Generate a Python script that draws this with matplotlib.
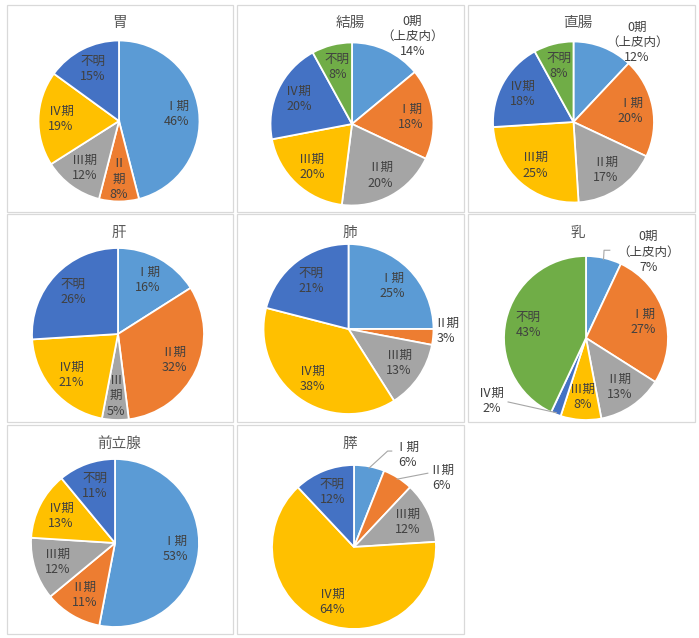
import numpy as np
import matplotlib
matplotlib.use("Agg")
import matplotlib.pyplot as plt
from matplotlib.patches import Rectangle

plt.rcParams['font.family'] = ['Noto Sans CJK JP', 'DejaVu Sans']

W, H = 699, 638

# data
titles = ['胃', '結腸', '直腸', '肝', '肺', '乳', '前立腺', '膵']
stages5 = ['Ⅰ期', 'Ⅱ期', 'Ⅲ期', 'Ⅳ期', '不明']
stages6 = ['0期\n（上皮内）', 'Ⅰ期', 'Ⅱ期', 'Ⅲ期', 'Ⅳ期', '不明']

stomach_pct = [46, 8, 12, 19, 15]
colon_pct = [14, 18, 20, 20, 20, 8]
rectum_pct = [12, 20, 17, 25, 18, 8]
liver_pct = [16, 32, 5, 21, 26]
lung_pct = [25, 3, 13, 38, 21]
breast_pct = [7, 27, 13, 8, 2, 43]
prostate_pct = [53, 11, 12, 13, 11]
pancreas_pct = [6, 6, 12, 64, 12]

all_pct = [stomach_pct, colon_pct, rectum_pct, liver_pct,
           lung_pct, breast_pct, prostate_pct, pancreas_pct]

# excel default palette
palette = ['#5B9BD5', '#ED7D31', '#A5A5A5', '#FFC000', '#4472C4', '#70AD47']

# layout (pixels, y from top)
col_x = [(7, 233), (237, 464), (468, 695)]
row_y = [(4.5, 212), (214, 422), (425, 634)]
centers = [(119, 121), (352, 124), (573.5, 122), (118, 334),
           (348.5, 329), (586, 338), (115, 543), (354, 547)]
radii = [80.5, 81.5, 80.5, 86, 85, 82, 84, 82]
title_y = [22.5, 22.5, 22.5, 232.5, 232.5, 232.5, 444, 444]
title_x = [119, 350, 578, 119, 350, 578, 119, 350]

# labels that sit outside the pie: (chart, slice) -> offset in radius units, leader line
outside = {
    (1, 0): ((0.74, 1.07), None),
    (2, 0): ((0.79, 0.99), None),
    (4, 1): ((1.15, -0.02), None),
    (5, 0): ((0.76, 1.05), [(0.22, 1.07), (0.29, 1.07)]),
    (5, 4): ((-1.15, -0.77), [(-0.95, -0.78)]),
    (7, 0): ((0.65, 1.12), [(0.41, 1.17), (0.46, 1.17)]),
    (7, 1): ((1.07, 0.84), [(0.90, 0.90)]),
}
wrapped = {(0, 1), (3, 2)}

fig = plt.figure(figsize=(W / 100, H / 100), dpi=100)
ax = fig.add_axes([0, 0, 1, 1])

for r in range(3):
    for c in range(3):
        if r == 2 and c == 2:
            continue
        x0, x1 = col_x[c]
        y0, y1 = row_y[r]
        ax.add_patch(Rectangle((x0, H - y1), x1 - x0, y1 - y0, fill=False,
                               edgecolor='#D9D9D9', lw=0.9))

for i, pct in enumerate(all_pct):
    cx, cy = centers[i][0], H - centers[i][1]
    rad = radii[i]
    stages = stages5 if len(pct) == 5 else stages6
    wedges, _ = ax.pie(pct, colors=palette[:len(pct)], startangle=90,
                       counterclock=False, center=(cx, cy), radius=rad,
                       wedgeprops=dict(edgecolor='white', linewidth=1.3),
                       frame=True)
    for j, w in enumerate(wedges):
        mid = np.deg2rad((w.theta1 + w.theta2) / 2)
        lab = stages[j]
        if (i, j) in wrapped:
            lab = lab[0] + '\n' + lab[1:]
        text = f"{lab}\n{pct[j]}%"
        if (i, j) in outside:
            (dx, dy), leader = outside[(i, j)]
            tx, ty = cx + dx * rad, cy + dy * rad
            if leader:
                px = [cx + rad * 0.98 * np.cos(mid)] + [cx + p[0] * rad for p in leader]
                py = [cy + rad * 0.98 * np.sin(mid)] + [cy + p[1] * rad for p in leader]
                ax.plot(px, py, color='#A6A6A6', lw=0.8)
        else:
            tx = cx + 0.72 * rad * np.cos(mid)
            ty = cy + 0.72 * rad * np.sin(mid)
        ax.text(tx, ty, text, ha='center', va='center', fontsize=9,
                color='#404040', linespacing=1.22)
    ax.text(title_x[i], H - title_y[i], titles[i], ha='center', va='center',
            fontsize=10.5, color='#595959')

ax.set_xlim(0, W)
ax.set_ylim(0, H)
ax.set_aspect('auto')
ax.axis('off')

fig.savefig('out.png', dpi=100, facecolor='white')
